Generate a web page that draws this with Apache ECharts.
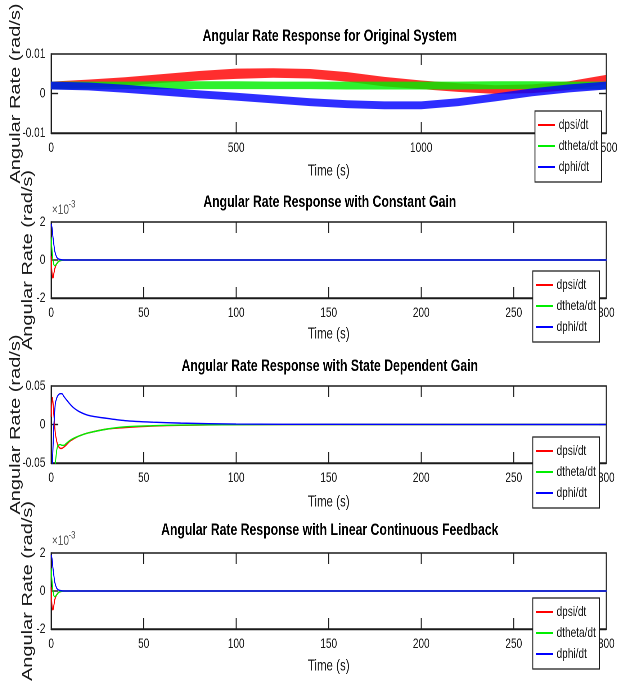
<!DOCTYPE html>
<html>
<head>
<meta charset="utf-8">
<script src="https://cdn.jsdelivr.net/npm/echarts@6/dist/echarts.min.js"></script>
<style>
  html, body { margin: 0; background: #fff; overflow: hidden; }
  #wrap { width: 617px; height: 685px; overflow: hidden; }
  /* the source figure is squeezed horizontally; draw wide, then squeeze */
  #c { width: 857px; height: 685px; transform: scaleX(0.72); transform-origin: 0 0; }
</style>
</head>
<body>
<div id="wrap"><div id="c"></div></div>
<script>
// Angular rate responses, four stacked subplots (MATLAB style)

const INK = '#1a1a1a';
const FONT = '"Liberation Sans", Arial, Helvetica, sans-serif';
const NAMES = ['dpsi/dt', 'dtheta/dt', 'dphi/dt'];
const COLORS = ['#FF0000', '#00EE00', '#0000FF'];

// panel 1: original system (fast oscillation drawn as its envelope band)
const T_ORIG = [0, 100, 200, 300, 400, 500, 600, 700, 800, 900, 1000, 1100, 1200, 1300, 1400, 1500];
const DPSI_HI = [0.0030, 0.0035, 0.0041, 0.0049, 0.0057, 0.0063, 0.0064, 0.0062, 0.0054, 0.0042, 0.0033, 0.0026, 0.0021, 0.0023, 0.0031, 0.0047];
const DPSI_LO = [0.0011, 0.0015, 0.0019, 0.0027, 0.0033, 0.0037, 0.0040, 0.0038, 0.0030, 0.0018, 0.0011, 0.0004, -0.0001, 0.0001, 0.0009, 0.0024];
const DTHETA_HI = [0.0030, 0.0030, 0.0030, 0.0031, 0.0031, 0.0031, 0.0030, 0.0030, 0.0030, 0.0030, 0.0030, 0.0030, 0.0031, 0.0031, 0.0030, 0.0030];
const DTHETA_LO = [0.0010, 0.0010, 0.0011, 0.0011, 0.0011, 0.0011, 0.0011, 0.0011, 0.0010, 0.0010, 0.0010, 0.0010, 0.0011, 0.0011, 0.0010, 0.0010];
const DPHI_HI = [0.0030, 0.0028, 0.0022, 0.0015, 0.0008, 0.0002, -0.0005, -0.0012, -0.0017, -0.0020, -0.0020, -0.0012, 0.0000, 0.0013, 0.0023, 0.0030];
const DPHI_LO = [0.0010, 0.0008, 0.0002, -0.0005, -0.0012, -0.0018, -0.0025, -0.0032, -0.0037, -0.0040, -0.0040, -0.0032, -0.0020, -0.0007, 0.0003, 0.0010];

// panel 2: constant gain
const T_CG = [0, 0.5, 1, 1.5, 2, 3, 4, 5, 7, 10, 300];
const CG_DPSI = [0.0002, -0.0007, -0.00095, -0.0007, -0.00045, -0.0002, -0.00008, -0.00003, 0, 0, 0];
const CG_DTHETA = [0.0012, 0.0005, 0, -0.00025, -0.0003, -0.0002, -0.00008, -0.00003, 0, 0, 0];
const CG_DPHI = [0.0019, 0.0017, 0.0012, 0.0008, 0.00045, 0.00015, 0.00005, 0.00002, 0, 0, 0];

// panel 3: state dependent gain
const T_SDG = [0, 0.7, 1.5, 2.2, 2.5, 3.5, 5, 5.8, 7, 8, 10, 12, 15, 20, 30, 40, 55, 70, 100, 150, 300];
const SDG_DPSI = [0.010, 0.035, 0.012, -0.010, -0.015, -0.026, -0.031, -0.031, -0.029, -0.027, -0.022, -0.019, -0.015, -0.011, -0.006, -0.004, -0.002, -0.001, -0.0003, 0, 0];
const SDG_DTHETA = [-0.12, -0.10, -0.075, -0.055, -0.045, -0.028, -0.026, -0.027, -0.027, -0.025, -0.021, -0.018, -0.015, -0.011, -0.006, -0.003, -0.0015, -0.0007, -0.0002, 0, 0];
const SDG_DPHI = [-0.09, -0.05, 0, 0.026, 0.030, 0.037, 0.040, 0.040, 0.036, 0.033, 0.027, 0.022, 0.017, 0.012, 0.008, 0.005, 0.003, 0.0018, 0.0006, 0.0002, 0];

// panel 4: linear continuous feedback
const T_LCF = [0, 0.5, 1, 1.5, 2, 3, 4, 5, 7, 10, 300];
const LCF_DPSI = [0.0002, -0.0008, -0.001, -0.00075, -0.00045, -0.0002, -0.00008, -0.00003, 0, 0, 0];
const LCF_DTHETA = [0.0012, 0.0005, 0, -0.00025, -0.0003, -0.0002, -0.00008, -0.00003, 0, 0, 0];
const LCF_DPHI = [0.0019, 0.0017, 0.0012, 0.0008, 0.00045, 0.00015, 0.00005, 0.00002, 0, 0, 0];

const TITLES = [
  'Angular Rate Response for Original System',
  'Angular Rate Response with Constant Gain',
  'Angular Rate Response with State Dependent Gain',
  'Angular Rate Response with Linear Continuous Feedback'
];
const X_MAX = [1500, 300, 300, 300];
const X_INT = [500, 50, 50, 50];
const Y_LIM = [0.01, 0.002, 0.05, 0.002];
const X_TICKS = [[500, 1000], [50, 100, 150, 200, 250], [50, 100, 150, 200, 250], [50, 100, 150, 200, 250]];
const Y_TICKS = [[0], [0], [0], [0]];

// layout (chart space, before the 0.72 horizontal squeeze)
const GRID_TOP = [54, 222, 386, 553];
const GRID_H = [79, 76, 77, 76];
const NAME_GAP_X = [30, 28, 31, 29];
const NAME_GAP_Y = [39, 22, 39, 22];
const LEGEND_TOP = [111, 271, 437, 598];
const LEGEND_LEFT = [743, 740, 740, 740];
const TITLE_TOP = [28, 194, 358, 522];
const TICK_X = 11, TICK_Y = 10;

const zip = (t, v) => t.map((x, i) => [x, v[i]]);

const grid = [], xAxis = [], yAxis = [], title = [], legend = [], series = [];

const AXIS_LINE = { show: true, onZero: false, lineStyle: { color: INK, width: 1.4 } };
const TICK_STYLE = { stroke: INK, lineWidth: 1.4 };

for (let i = 0; i < 4; i++) {
  grid.push({ left: 71, right: 15, top: GRID_TOP[i], height: GRID_H[i], show: true,
    borderColor: INK, borderWidth: 1.4, backgroundColor: 'transparent',
    containLabel: false, outerBoundsMode: 'none' });

  xAxis.push({ type: 'value', gridIndex: i, min: 0, max: X_MAX[i], interval: X_INT[i],
    axisLine: AXIS_LINE, splitLine: { show: false }, axisTick: { show: false },
    axisLabel: { color: INK, fontSize: 14, fontFamily: FONT, margin: 8, formatter: v => String(v) },
    name: 'Time (s)', nameLocation: 'middle', nameGap: NAME_GAP_X[i], nameMoveOverlap: false,
    nameTextStyle: { color: INK, fontSize: 16, fontFamily: FONT } });

  const small = Y_LIM[i] < 0.005;
  yAxis.push({ type: 'value', gridIndex: i, min: -Y_LIM[i], max: Y_LIM[i], interval: Y_LIM[i],
    axisLine: AXIS_LINE, splitLine: { show: false }, axisTick: { show: false },
    axisLabel: { color: INK, fontSize: 14, fontFamily: FONT, margin: 8,
      formatter: small ? v => String(Math.round(v * 1000)) : v => String(v) },
    name: 'Angular Rate (rad/s)', nameLocation: 'middle', nameGap: NAME_GAP_Y[i], nameMoveOverlap: false,
    nameTextStyle: { color: INK, fontSize: 20, fontFamily: FONT } });

  title.push({ text: TITLES[i], left: 458, top: TITLE_TOP[i], textAlign: 'center', padding: 0,
    textStyle: { color: '#000', fontSize: 17, fontWeight: 'bold', fontFamily: FONT } });

  legend.push({ data: NAMES, orient: 'vertical', left: LEGEND_LEFT[i], top: LEGEND_TOP[i],
    backgroundColor: '#fff', borderColor: INK, borderWidth: 1.3, padding: [7, 5, 8, 4],
    itemGap: 7, itemWidth: 24, itemHeight: 2, icon: 'rect', selectedMode: false,
    itemStyle: { borderWidth: 0 },
    textStyle: { color: INK, fontSize: 14, fontFamily: FONT }, z: 10 });

  // MATLAB-style inward ticks on all four sides, placed through the axis scales
  const ymin = -Y_LIM[i], ymax = Y_LIM[i], xmax = X_MAX[i];
  series.push({ type: 'custom', xAxisIndex: i, yAxisIndex: i, silent: true, z: 3,
    data: X_TICKS[i].map(v => [v, 0]),
    renderItem: (params, api) => {
      const b = api.coord([api.value(0), ymin]), t = api.coord([api.value(0), ymax]);
      return { type: 'group', children: [
        { type: 'line', shape: { x1: b[0], y1: b[1], x2: b[0], y2: b[1] - TICK_X }, style: TICK_STYLE },
        { type: 'line', shape: { x1: t[0], y1: t[1], x2: t[0], y2: t[1] + TICK_X }, style: TICK_STYLE }
      ] };
    } });
  series.push({ type: 'custom', xAxisIndex: i, yAxisIndex: i, silent: true, z: 3,
    data: Y_TICKS[i].map(v => [0, v]),
    renderItem: (params, api) => {
      const l = api.coord([0, api.value(1)]), r = api.coord([xmax, api.value(1)]);
      return { type: 'group', children: [
        { type: 'line', shape: { x1: l[0], y1: l[1], x2: l[0] + TICK_Y, y2: l[1] }, style: TICK_STYLE },
        { type: 'line', shape: { x1: r[0], y1: r[1], x2: r[0] - TICK_Y, y2: r[1] }, style: TICK_STYLE }
      ] };
    } });
}

// x10^-3 multipliers for panels 2 and 4
[1, 3].forEach(i => {
  title.push({ text: '×10', left: 72, top: GRID_TOP[i] - 19, padding: 0,
    textStyle: { color: '#555', fontSize: 14, fontWeight: 'normal', fontFamily: FONT } });
  title.push({ text: '-3', left: 95, top: GRID_TOP[i] - 23, padding: 0,
    textStyle: { color: '#555', fontSize: 11, fontWeight: 'normal', fontFamily: FONT } });
});

// panel 1: envelope bands, drawn as one polygon per signal through the axis scales
[[DPSI_LO, DPSI_HI], [DTHETA_LO, DTHETA_HI], [DPHI_LO, DPHI_HI]].forEach(([lo, hi], k) => {
  series.push({
    type: 'custom', name: NAMES[k], xAxisIndex: 0, yAxisIndex: 0,
    data: T_ORIG.map((t, j) => [t, lo[j], hi[j]]),
    encode: { x: 0, y: [1, 2] },
    itemStyle: { color: COLORS[k] },
    renderItem: (params, api) => {
      if (params.dataIndexInside !== 0) return null;
      const top = T_ORIG.map((t, j) => api.coord([t, hi[j]]));
      const bot = T_ORIG.map((t, j) => api.coord([t, lo[j]])).reverse();
      return { type: 'polygon', shape: { points: top.concat(bot) },
        style: { fill: COLORS[k], opacity: 0.82 } };
    }
  });
});

// panels 2-4 lines
const PANELS = [
  [T_CG, [CG_DPSI, CG_DTHETA, CG_DPHI]],
  [T_SDG, [SDG_DPSI, SDG_DTHETA, SDG_DPHI]],
  [T_LCF, [LCF_DPSI, LCF_DTHETA, LCF_DPHI]]
];
PANELS.forEach(([t, vals], p) => {
  const i = p + 1;
  vals.forEach((v, k) => {
    series.push({ type: 'line', name: NAMES[k], xAxisIndex: i, yAxisIndex: i,
      data: zip(t, v), symbol: 'none', smooth: 0.3,
      lineStyle: { width: 1.4, color: COLORS[k] }, itemStyle: { color: COLORS[k] } });
  });
});

const chart = echarts.init(document.getElementById('c'), null, { renderer: 'canvas', devicePixelRatio: 2 });
chart.setOption({ animation: false, backgroundColor: '#fff',
  grid, xAxis, yAxis, title, legend, series });
window.addEventListener('resize', () => chart.resize());
</script>
</body>
</html>
